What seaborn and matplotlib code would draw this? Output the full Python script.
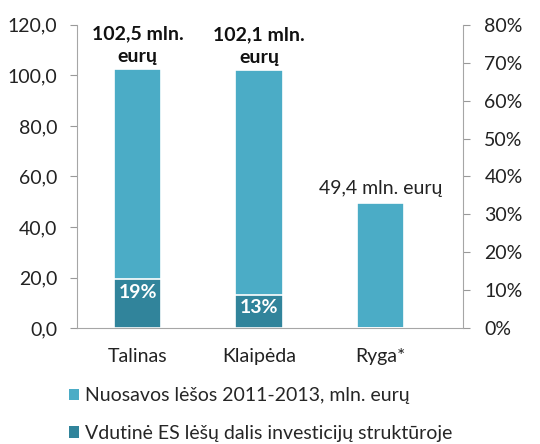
import matplotlib
matplotlib.use("Agg")
import matplotlib.pyplot as plt
import seaborn as sns
import pandas as pd
import numpy as np
from matplotlib.ticker import FuncFormatter, FixedLocator
from matplotlib.patches import Patch

categories = ["Talinas", "Klaipėda", "Ryga*"]
totals = [102.5, 102.1, 49.4]
eu_share_pct = [19, 13, 0]
total_labels = ["102,5 mln.\neurų", "102,1 mln.\neurų", "49,4 mln. eurų"]
legend_labels = ["Nuosavos lėšos 2011-2013, mln. eurų",
                 "Vdutinė ES lėšų dalis investicijų struktūroje"]

light = "#4BACC6"
dark = "#31849B"
FS = 14

sns.set_style("white")
plt.rcParams['font.family'] = ['Lato', 'DejaVu Sans']

df = pd.DataFrame({"cat": categories, "total": totals,
                   "eu": [t * s / 100 for t, s in zip(totals, eu_share_pct)]})

fig = plt.figure(figsize=(5.4, 4.44), dpi=100)
ax = fig.add_axes([0.1426, 0.261, 0.7144, 0.683])

sns.barplot(data=df, x="cat", y="total", color=light, width=0.39, ax=ax,
            edgecolor="white", linewidth=1.2, saturation=1)
sns.barplot(data=df, x="cat", y="eu", color=dark, width=0.39, ax=ax,
            edgecolor="white", linewidth=1.2, saturation=1)

ax.set_xlim(-0.5, 2.68)
ax.set_ylim(0, 120)
ax.set_yticks(np.arange(0, 121, 20))
ax.yaxis.set_major_formatter(FuncFormatter(lambda v, p: f"{v:.1f}".replace(".", ",")))
ax.set_xlabel("")
ax.set_ylabel("")

ax.xaxis.set_minor_locator(FixedLocator([-0.5, 0.5, 1.5, 2.5]))
ax.tick_params(axis="x", which="major", length=0, pad=14, labelsize=FS, colors="#222222")
ax.tick_params(axis="x", which="minor", length=5, color="#999999", direction="out")
ax.tick_params(axis="y", length=5, color="#999999", direction="out", labelsize=FS,
               labelcolor="#222222", pad=9)

for s in ["left", "bottom"]:
    ax.spines[s].set_color("#A6A6A6")
ax.spines["top"].set_visible(False)
ax.spines["right"].set_visible(False)

ax2 = ax.twinx()
ax2.set_ylim(0, 0.8)
ax2.set_yticks(np.arange(0, 0.81, 0.1))
ax2.yaxis.set_major_formatter(FuncFormatter(lambda v, p: f"{round(v*100):d}%"))
ax2.tick_params(axis="y", length=5, color="#999999", direction="out", labelsize=FS,
                labelcolor="#222222", pad=10.5)
for s in ["left", "bottom", "top"]:
    ax2.spines[s].set_visible(False)
ax2.spines["right"].set_color("#A6A6A6")

# value labels
for i, (t, lab) in enumerate(zip(totals, total_labels)):
    if "\n" in lab:
        ax.text(i, t + 1.5, lab, ha="center", va="bottom", fontsize=FS,
                fontweight="bold", color="#111111", linespacing=1.4)
    else:
        ax.text(i, t + 2.5, lab, ha="center", va="bottom", fontsize=FS, color="#222222")

for i, (t, s) in enumerate(zip(totals, eu_share_pct)):
    if s > 0:
        h = t * s / 100
        ax.text(i, h - 5.2, f"{s}%", ha="center", va="center", fontsize=FS,
                fontweight="bold", color="white")

handles = [Patch(facecolor=light, edgecolor="none"), Patch(facecolor=dark, edgecolor="none")]
fig.legend(handles, legend_labels, loc="upper left", bbox_to_anchor=(0.113, 0.145),
           frameon=False, fontsize=FS, handlelength=0.55, handleheight=0.55,
           handletextpad=0.3, labelspacing=1.05, borderaxespad=0)

fig.savefig("out.png", dpi=100)
